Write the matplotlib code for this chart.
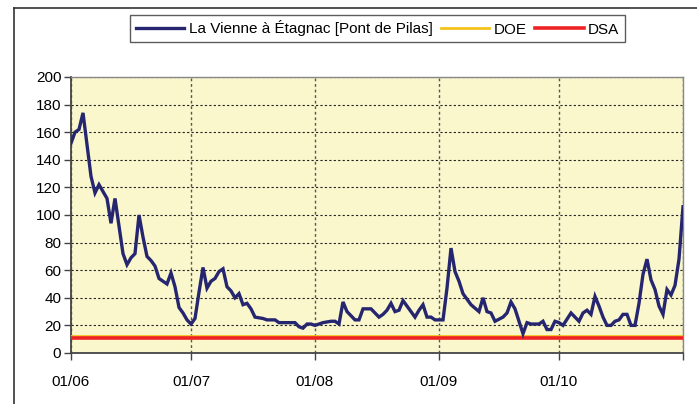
import matplotlib
matplotlib.use("Agg")
import matplotlib.pyplot as plt
from matplotlib.lines import Line2D

# Data: days since 1 June, daily flow (m3/s)
days = [0, 1, 2, 3, 5, 6, 7, 9, 10, 11, 13, 14, 15, 16, 17, 18, 19, 20, 21, 22,
        24, 25, 26, 27, 28, 29, 30, 31, 32, 33, 34, 35, 36, 37, 38, 39, 40, 41, 42, 43,
        44, 45, 46, 48, 49, 51, 52, 56, 57, 58, 59, 60, 61, 62, 63, 65, 66, 67, 68, 69,
        71, 72, 73, 74, 75, 77, 78, 79, 80, 81, 82, 83, 85, 86, 87, 88, 89, 90, 91, 93,
        94, 95, 96, 97, 98, 100, 102, 103, 104, 105, 106, 108, 109, 110, 111, 112, 113, 114, 115, 117,
        118, 119, 120, 121, 122, 123, 125, 127, 128, 129, 130, 131, 132, 133, 134, 135, 136, 137, 138, 139,
        140, 141, 142, 143, 144, 145, 146, 147, 148, 149, 150, 151, 152, 153]
flow = [152, 160, 162, 174, 128, 116, 122, 112, 94, 112, 72, 64, 69, 72, 100, 84, 70, 67, 63, 54,
        50, 58, 48, 33, 29, 24, 21, 25, 44, 62, 47, 52, 54, 59, 61, 48, 45, 40, 43, 35,
        36, 32, 26, 25, 24, 24, 22, 22, 19, 18, 21, 21, 20, 21, 22, 23, 23, 21, 37, 30,
        24, 24, 32, 32, 32, 26, 28, 31, 36, 30, 31, 38, 30, 26, 31, 35, 26, 26, 24, 24,
        47, 76, 59, 52, 43, 35, 30, 40, 30, 29, 23, 26, 29, 37, 32, 23, 14, 22, 21, 21,
        23, 17, 17, 23, 22, 20, 29, 23, 29, 31, 28, 41, 34, 26, 20, 20, 23, 24, 28, 28,
        20, 20, 36, 57, 68, 53, 46, 34, 28, 46, 42, 49, 68, 106]
doe_value = 12.5
dsa_value = 11
month_ticks = [0, 30, 61, 92, 122, 153]
month_labels = ["01/06", "01/07", "01/08", "01/09", "01/10", ""]
y_ticks = list(range(0, 201, 20))
series_label = "La Vienne à Étagnac [Pont de Pilas]"

plt.rcParams['font.family'] = ['Liberation Sans', 'DejaVu Sans']

fig = plt.figure(figsize=(6.97, 4.04), dpi=100)
fig.patch.set_facecolor('white')

# outer chart frame (left and top edges visible)
fig.add_artist(Line2D([14/697, 14/697], [0, 1 - 8/404], transform=fig.transFigure,
                      color='#333333', lw=1.2))
fig.add_artist(Line2D([14/697, 1], [1 - 8/404, 1 - 8/404], transform=fig.transFigure,
                      color='#333333', lw=1.2))

ax = fig.add_axes([71/697, 1 - 353/404, (683 - 71)/697, (353 - 77)/404])
ax.set_facecolor('#FAF7CD')

ax.plot(days, flow, color='#262670', lw=2.4, label=series_label, zorder=4,
        solid_joinstyle='miter')
ax.axhline(doe_value, color='#F5C21B', lw=2.0, label='DOE', zorder=3)
ax.axhline(dsa_value, color='#EE2224', lw=2.6, label='DSA', zorder=3)

ax.set_xlim(0, 153)
ax.set_ylim(0, 200)
ax.set_xticks(month_ticks)
ax.set_xticklabels(month_labels)
ax.set_yticks(y_ticks)

ax.grid(True, axis='y', color='#222222', lw=0.8, ls=(0, (2, 2)))
ax.grid(True, axis='x', color='#555555', lw=1.0, ls=(0, (2, 2)))
ax.set_axisbelow(True)

for s in ['left', 'bottom']:
    ax.spines[s].set_color('#444444')
    ax.spines[s].set_linewidth(1.3)
for s in ['top', 'right']:
    ax.spines[s].set_color('#888888')
    ax.spines[s].set_linewidth(1.0)

ax.tick_params(axis='x', direction='out', length=5, width=1, color='#444444',
               labelsize=11, pad=11)
ax.tick_params(axis='y', direction='out', length=5, width=1, color='#444444',
               labelsize=11, pad=2)

leg = fig.legend(loc='center', bbox_to_anchor=(377.5/697, 1 - 28.5/404), ncol=3,
                 frameon=True, fancybox=False, edgecolor='#333333', fontsize=11,
                 handlelength=3.2, handletextpad=0.3, columnspacing=0.5,
                 borderpad=0.35, borderaxespad=0)
leg.get_frame().set_linewidth(1.0)

fig.savefig('out.png', dpi=100)
